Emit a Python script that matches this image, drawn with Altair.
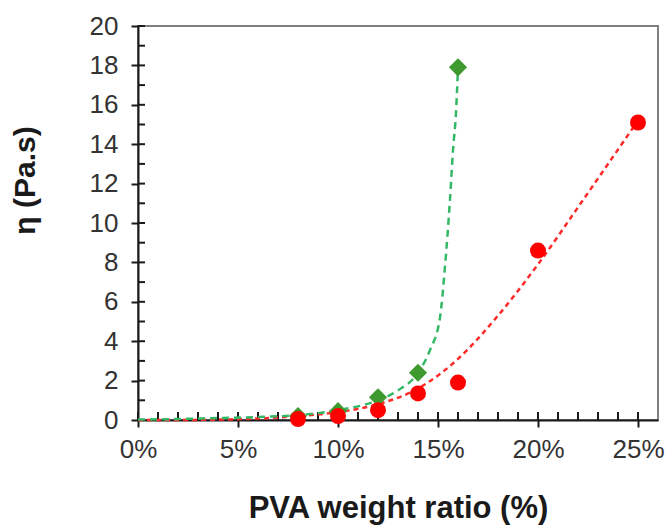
import altair as alt
import pandas as pd

# measured data points
red_x = [0.08, 0.10, 0.12, 0.14, 0.16, 0.20, 0.25]
red_y = [0.05, 0.2, 0.5, 1.35, 1.9, 8.6, 15.1]
green_x = [0.08, 0.10, 0.12, 0.14, 0.16]
green_y = [0.2, 0.45, 1.15, 2.4, 17.9]

# fitted trend lines
red_fit_x = [0.0, 0.02, 0.04, 0.06, 0.08, 0.10, 0.12, 0.14, 0.16, 0.18, 0.20, 0.22, 0.25]
red_fit_y = [0.0, 0.0, 0.02, 0.08, 0.2, 0.4, 0.8, 1.6, 3.1, 5.3, 7.9, 10.8, 15.2]
green_fit_x = [0.0, 0.02, 0.04, 0.06, 0.08, 0.10, 0.12, 0.13, 0.14, 0.146, 0.151, 0.1535, 0.156, 0.1575, 0.159, 0.16]
green_fit_y = [0.02, 0.05, 0.1, 0.15, 0.25, 0.5, 1.0, 1.5, 2.4, 3.55, 5.2, 7.8, 11.2, 13.7, 15.6, 17.9]

# axis ticks
x_ticks = [0.0, 0.05, 0.10, 0.15, 0.20, 0.25]
y_ticks = [0, 2, 4, 6, 8, 10, 12, 14, 16, 18, 20]
x_inner = [i / 100 for i in range(0, 26)]
y_inner = list(range(0, 21))

FONT = "Liberation Sans"
INK = "#1a1a1a"
LABEL = "#333333"

xscale = alt.Scale(domain=[0, 0.26], nice=False, zero=False)
yscale = alt.Scale(domain=[0, 20], nice=False)

x_axis = alt.Axis(
    values=x_ticks, format=".0%", title="PVA weight ratio (%)", grid=False,
    domainColor=INK, domainWidth=2, tickColor=INK, tickWidth=2, tickSize=7,
    labelFont=FONT, labelFontSize=26, labelColor=LABEL, labelPadding=9,
    labelFlush=False,
    titleFont=FONT, titleFontSize=31, titleFontWeight="bold", titleColor=INK,
    titleY=97, titleBaseline="alphabetic",
)
y_axis = alt.Axis(
    values=y_ticks, title="η (Pa.s)", grid=False,
    domainColor=INK, domainWidth=2, tickColor=INK, tickWidth=2, tickSize=7,
    labelFont=FONT, labelFontSize=26, labelColor=LABEL, labelPadding=13,
    labelFlush=False,
    titleFont=FONT, titleFontSize=30, titleFontWeight="bold", titleColor=INK,
    titleX=-98, titleY=154, titleAngle=-90, titleBaseline="bottom", titleAlign="center",
)

X = lambda: alt.X("x:Q", scale=xscale, axis=x_axis)
Y = lambda: alt.Y("y:Q", scale=yscale, axis=y_axis)

red_df = pd.DataFrame({"x": red_x, "y": red_y})
green_df = pd.DataFrame({"x": green_x, "y": green_y})
red_fit = pd.DataFrame({"x": red_fit_x, "y": red_fit_y})
green_fit = pd.DataFrame({"x": green_fit_x, "y": green_fit_y})
yin = pd.DataFrame({"y": y_inner})
xin = pd.DataFrame({"x": x_inner})

y_in_ticks = alt.Chart(yin).mark_rule(color=INK, strokeWidth=2).encode(
    y=Y(), x=alt.value(0), x2=alt.value(7))
x_in_ticks = alt.Chart(xin).mark_rule(color=INK, strokeWidth=2).encode(
    x=X(), y=alt.value(394), y2=alt.value(386))

red_line = alt.Chart(red_fit).mark_line(
    color="#FF2A2A", strokeWidth=2.5, strokeDash=[5, 4], interpolate="monotone"
).encode(x=X(), y=Y())
green_line = alt.Chart(green_fit).mark_line(
    color="#33B866", strokeWidth=2.5, strokeDash=[7, 5], interpolate="monotone"
).encode(x=X(), y=Y())

green_pts = alt.Chart(green_df).mark_point(
    shape="diamond", filled=True, size=330, color="#3E9A2F", opacity=1
).encode(x=X(), y=Y())
red_pts = alt.Chart(red_df).mark_point(
    shape="circle", filled=True, size=256, color="#FF0000", opacity=1
).encode(x=X(), y=Y())

chart = alt.layer(
    y_in_ticks, x_in_ticks, red_line, green_line, green_pts, red_pts
).properties(
    width=520, height=394,
    autosize=alt.AutoSizeParams(type="none"),
    padding={"left": 138, "top": 26, "right": 10, "bottom": 106},
).configure_view(stroke="#808080", strokeWidth=2)

chart.save("out.html", embed_options={"renderer": "svg", "actions": False})
